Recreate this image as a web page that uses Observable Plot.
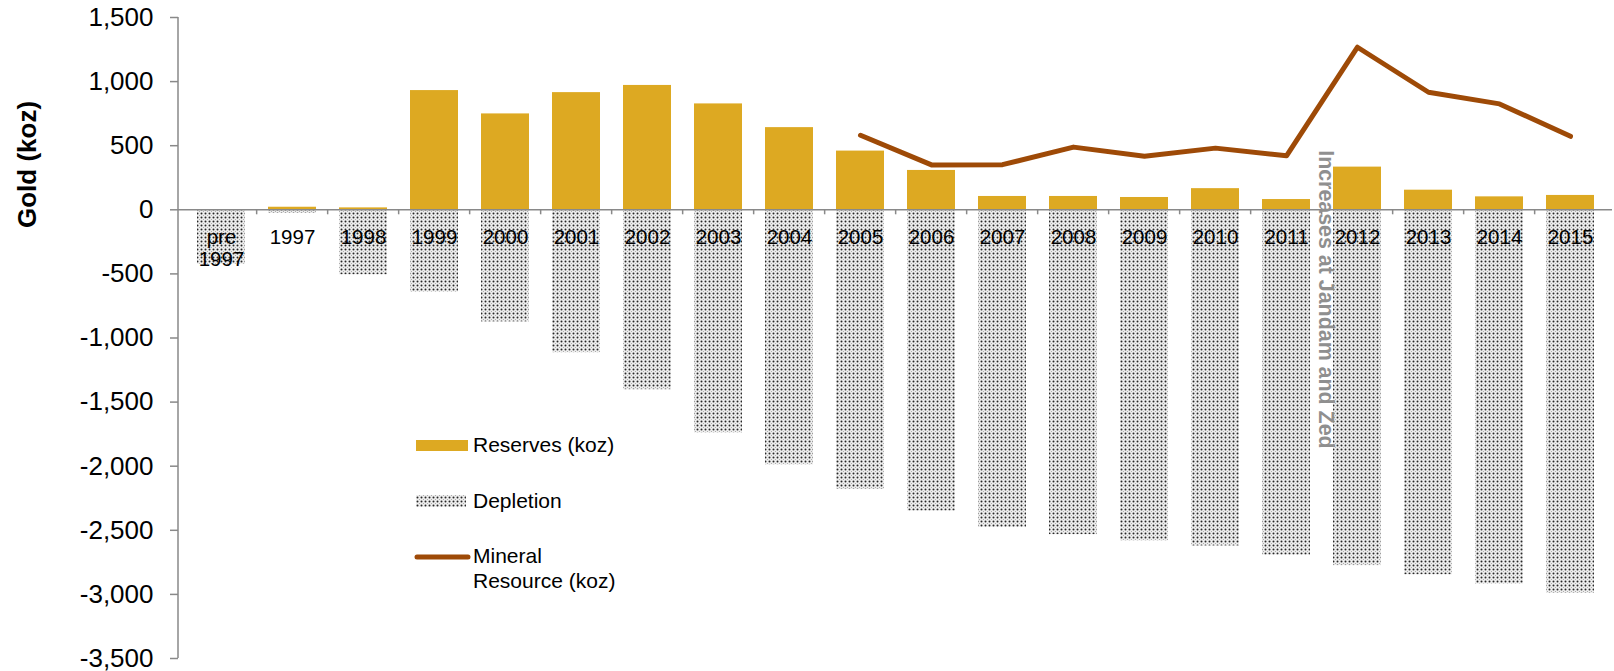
<!DOCTYPE html>
<html>
<head>
<meta charset="utf-8">
<script src="https://cdn.jsdelivr.net/npm/d3@7"></script>
<script src="https://cdn.jsdelivr.net/npm/@observablehq/plot@0.6"></script>
<style>
  body { margin: 0; background: #fff; }
  #chart { width: 1614px; height: 671px; }
</style>
</head>
<body>
<div id="chart"></div>
<script>
// ---- data ----
const categories = ["pre 1997", "1997", "1998", "1999", "2000", "2001", "2002", "2003", "2004", "2005",
  "2006", "2007", "2008", "2009", "2010", "2011", "2012", "2013", "2014", "2015"];
const categoryLabels = ["pre\n1997", "1997", "1998", "1999", "2000", "2001", "2002", "2003", "2004", "2005",
  "2006", "2007", "2008", "2009", "2010", "2011", "2012", "2013", "2014", "2015"];
const reserves = [0, 20, 15, 930, 748, 914, 970, 826, 641, 458, 307, 104, 104, 96, 165, 80, 333, 153, 101, 112];
const depletion = [-425, -28, -507, -642, -874, -1115, -1403, -1740, -1989, -2181, -2350, -2478, -2534,
  -2582, -2622, -2694, -2775, -2847, -2919, -2991];
const mineralYears = ["2005", "2006", "2007", "2008", "2009", "2010", "2011", "2012", "2013", "2014", "2015"];
const mineral = [581, 350, 352, 489, 417, 481, 421, 1268, 917, 826, 573];
const yTicks = [-3500, -3000, -2500, -2000, -1500, -1000, -500, 0, 500, 1000, 1500];
const annotation = [{category: "2012", value: 465, text: "Increases at Jandam and Zed"}];
const legendItems = ["Reserves (koz)", "Depletion", "Mineral\nResource (koz)"];

// ---- tables built from the arrays ----
const reserveRows = categories.map((c, i) => ({category: c, value: reserves[i]}));
const depletionRows = categories.map((c, i) => ({category: c, value: depletion[i]}));
const mineralRows = mineralYears.map((c, i) => ({category: c, value: mineral[i]}));

const W = 1614, H = 671;
const mL = 178, mR = 2, mT = 17, mB = 13;
const step = (W - mL - mR) / categories.length;
const gold = "#DDA922", brown = "#9E4A07", axisGray = "#898989";
const fmt = d => d3.format(",")(d).replace("\u2212", "-");
const tickLen = 5 * (1500 - (-3500)) / (H - mT - mB);

function defsAndAxis(index, scales, values, dims) {
  const g = d3.create("svg:g");
  const defs = g.append("defs");
  const pat = defs.append("pattern").attr("id", "dots")
    .attr("patternUnits", "userSpaceOnUse").attr("width", 4).attr("height", 4);
  pat.append("rect").attr("width", 4).attr("height", 4).attr("fill", "#eeeeee");
  pat.append("circle").attr("cx", 1.5).attr("cy", 1.5).attr("r", 1.0).attr("fill", "#262626");
  pat.append("circle").attr("cx", 3.5).attr("cy", 3.5).attr("r", 0.6).attr("fill", "#a8a8a8");
  g.append("line")
    .attr("x1", dims.marginLeft).attr("x2", dims.marginLeft)
    .attr("y1", scales.y(yTicks[yTicks.length - 1])).attr("y2", scales.y(yTicks[0]))
    .attr("stroke", axisGray).attr("stroke-width", 1.5);
  return g.node();
}

function legend() {
  const g = d3.create("svg:g")
    .attr("font-family", "'Liberation Sans', Arial, sans-serif")
    .attr("font-size", 21).attr("fill", "#000").attr("text-anchor", "start");
  g.append("rect").attr("x", 416).attr("y", 440).attr("width", 52).attr("height", 11).attr("fill", gold);
  g.append("text").attr("x", 473).attr("y", 445).attr("dy", "0.35em").text(legendItems[0]);
  g.append("rect").attr("x", 416).attr("y", 495).attr("width", 50).attr("height", 12).attr("fill", "url(#dots)");
  g.append("text").attr("x", 473).attr("y", 501).attr("dy", "0.35em").text(legendItems[1]);
  g.append("line").attr("x1", 417).attr("x2", 468).attr("y1", 557).attr("y2", 557)
    .attr("stroke", brown).attr("stroke-width", 5).attr("stroke-linecap", "round");
  const lines = legendItems[2].split("\n");
  lines.forEach((t, i) => {
    g.append("text").attr("x", 473).attr("y", 556 + i * 25).attr("dy", "0.35em").text(t);
  });
  return g.node();
}

const chart = Plot.plot({
  width: W,
  height: H,
  marginLeft: mL,
  marginRight: mR,
  marginTop: mT,
  marginBottom: mB,
  style: {fontFamily: "'Liberation Sans', Arial, sans-serif", background: "#fff", color: "#000", overflow: "visible"},
  x: {domain: categories, paddingInner: 0.33, paddingOuter: 0.165, align: 0.5, axis: null},
  y: {domain: [-3500, 1500], axis: null},
  marks: [
    defsAndAxis,
    Plot.barY(depletionRows, {x: "category", y1: 0, y2: "value", fill: "url(#dots)"}),
    Plot.barY(reserveRows, {x: "category", y1: 0, y2: "value", fill: gold}),
    Plot.ruleY([0], {stroke: axisGray, strokeWidth: 1.5}),
    Plot.ruleX(categories.slice(1), {x: d => d, y1: 0, y2: -tickLen, dx: -step / 2, stroke: axisGray, strokeWidth: 1.5}),
    Plot.axisY({ticks: yTicks, tickFormat: fmt, tickSize: 8, tickPadding: 17, fontSize: 26, stroke: axisGray, strokeWidth: 1.5, label: null}),
    Plot.text(categories, {x: d => d, y: 0, text: (d, i) => categoryLabels[i], dy: 18, lineAnchor: "top", lineHeight: 1.1, fontSize: 20.5, fill: "#000"}),
    Plot.line(mineralRows, {x: "category", y: "value", stroke: brown, strokeWidth: 5, strokeLinecap: "round", strokeLinejoin: "round"}),
    Plot.text(annotation, {x: "category", y: "value", text: "text", rotate: 90, textAnchor: "start", dx: -32, fontSize: 21.4, fontWeight: "bold", fill: "#8f8f8f"}),
    Plot.text(["Gold (koz)"], {frameAnchor: "left", rotate: -90, dx: -151, dy: -110, fontSize: 26, fontWeight: "bold", fill: "#000"}),
    legend
  ]
});
document.getElementById("chart").appendChild(chart);
</script>
</body>
</html>
